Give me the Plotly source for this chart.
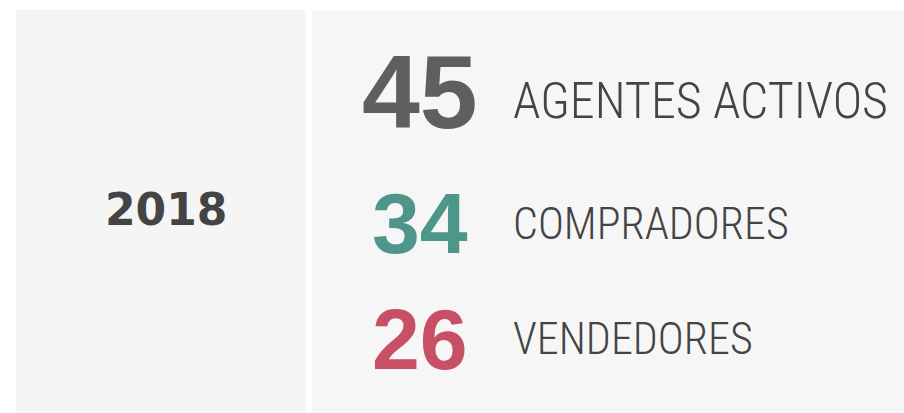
import plotly.graph_objects as go

# data
year = "2018"
values = [45, 34, 26]
labels = ["AGENTES ACTIVOS", "COMPRADORES", "VENDEDORES"]
value_colors = ["#5f5f5f", "#4f968a", "#c85066"]

# layout constants (pixel space)
W, H = 904, 413
num_y = [92, 223, 339]
label_y = [101, 224, 339]
num_sizes = [104, 86, 86]
label_sizes = [50, 44, 44]
num_x = 420
label_x = 511

fig = go.Figure()

# panels
fig.add_shape(type="rect", x0=16, x1=306, y0=10, y1=H,
              fillcolor="#f5f5f5", line_width=0, layer="below")
fig.add_shape(type="rect", x0=312, x1=W, y0=10, y1=H,
              fillcolor="#f6f6f6", line_width=0, layer="below")

# year
fig.add_annotation(x=166, y=209, text=year, showarrow=False,
                   xanchor="center", yanchor="middle",
                   font=dict(family="DejaVu Sans", size=44, color="#444444", weight="bold"))

for v, col, fs, y in zip(values, value_colors, num_sizes, num_y):
    fig.add_annotation(x=num_x, y=y, text=str(v), showarrow=False,
                       xanchor="center", yanchor="middle",
                       font=dict(family="Liberation Sans", size=fs, color=col, weight="bold"))

for lab, fs, y in zip(labels, label_sizes, label_y):
    fig.add_annotation(x=label_x, y=y, text=lab, showarrow=False,
                       xanchor="left", yanchor="middle",
                       font=dict(family="Roboto Condensed", size=fs, color="#444444", weight=300))

fig.update_xaxes(range=[0, W], visible=False, fixedrange=True)
fig.update_yaxes(range=[H, 0], visible=False, fixedrange=True)
fig.update_layout(
    width=W, height=H,
    margin=dict(l=0, r=0, t=0, b=0),
    paper_bgcolor="white",
    plot_bgcolor="white",
    showlegend=False,
)

fig.write_html("out.html", config={"displayModeBar": False},
               post_script="document.body.style.margin='0';")
